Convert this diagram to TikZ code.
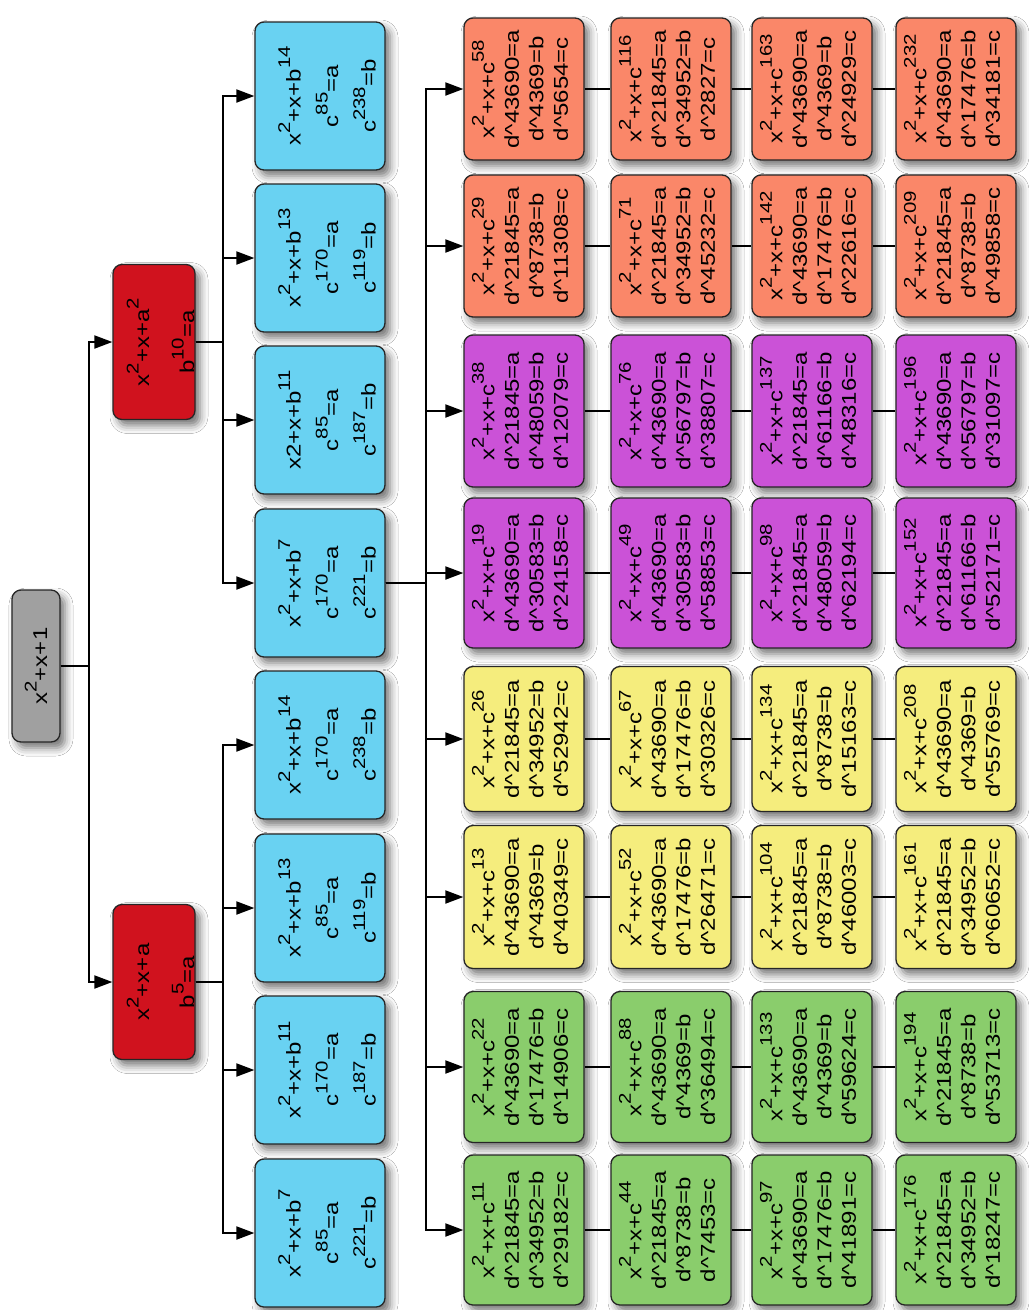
\documentclass[tikz,border=0pt]{standalone}
\usepackage{fontspec}
\setmainfont{Liberation Sans}
\usepackage{graphicx}
\usetikzlibrary{arrows.meta,shadows.blur}
\definecolor{cgray}{RGB}{160,160,160}
\definecolor{cred}{RGB}{208,18,30}
\definecolor{cblue}{RGB}{105,210,242}
\definecolor{corange}{RGB}{250,135,105}
\definecolor{cpurple}{RGB}{203,82,215}
\definecolor{cyellow}{RGB}{245,237,125}
\definecolor{cgreen}{RGB}{138,205,108}
\newcommand\sups[1]{\raisebox{10.5pt}{\fontsize{17}{17}\selectfont #1}}
\newcommand\nlbl[4]{\rotatebox{90}{\scalebox{1.2}[1]{\vbox{\fontsize{20}{#1}\selectfont\vskip#2\relax\halign{\hfil##\hfil\cr#4\crcr}\vskip#3\relax}}}}
\newcommand\cnt[4]{\nlbl{24.5}{0pt}{8pt}{x\sups{2}+x+c\sups{#1}\cr d\textasciicircum #2=a\cr d\textasciicircum #3=b\cr d\textasciicircum #4=c}}
\newcommand\bnt[3]{\nlbl{37.5}{14pt}{0pt}{#1\cr c\sups{#2}=a\cr c\sups{#3}=b}}
\begin{document}
\begin{tikzpicture}[x=1pt,y=-1pt,
  base/.style={rectangle, rounded corners=9pt, draw=black!85, line width=1.3pt, inner sep=0pt,
    blur shadow={shadow xshift=5pt,shadow yshift=-6pt,shadow blur radius=8pt,shadow opacity=55}},
  rootbox/.style={base, fill=cgray, minimum width=48pt, minimum height=152pt},
  redbox/.style={base, fill=cred, minimum width=82pt, minimum height=155pt},
  bluebox/.style={base, fill=cblue, minimum width=130pt, minimum height=148pt},
  cbox/.style={base, minimum width=120pt, minimum height=#1},
  orbox/.style={cbox=142pt, fill=corange},
  pu3/.style={cbox=152pt, fill=cpurple},
  pu4/.style={cbox=150pt, fill=cpurple},
  ye5/.style={cbox=145pt, fill=cyellow},
  ye6/.style={cbox=143pt, fill=cyellow},
  gr7/.style={cbox=151pt, fill=cgreen},
  gr8/.style={cbox=150pt, fill=cgreen},
  arr/.style={line width=2pt, -{Triangle[length=18pt,width=13pt]}},
  ln/.style={line width=2pt}]
\useasboundingbox[fill=white] (0,0) rectangle (1029,1310);

\node[rootbox] (root) at (36,666) {\nlbl{25}{0pt}{0pt}{x\sups{2}+x+1}};
\node[redbox] (ra) at (154,342) {\nlbl{45}{13pt}{0pt}{x\sups{2}+x+a\sups{2}\cr b\sups{10}=a}};
\node[redbox] (rb) at (154,982) {\nlbl{45}{13pt}{0pt}{x\sups{2}+x+a\cr b\sups{5}=a}};

\node[bluebox] (b1) at (320,96) {\bnt{x\sups{2}+x+b\sups{14}}{85}{238}};
\node[bluebox] (b2) at (320,258) {\bnt{x\sups{2}+x+b\sups{13}}{170}{119}};
\node[bluebox] (b3) at (320,420) {\bnt{x2+x+b\sups{11}}{85}{187}};
\node[bluebox] (b4) at (320,583) {\bnt{x\sups{2}+x+b\sups{7}}{170}{221}};
\node[bluebox] (b5) at (320,745) {\bnt{x\sups{2}+x+b\sups{14}}{170}{238}};
\node[bluebox] (b6) at (320,908) {\bnt{x\sups{2}+x+b\sups{13}}{85}{119}};
\node[bluebox] (b7) at (320,1070) {\bnt{x\sups{2}+x+b\sups{11}}{170}{187}};
\node[bluebox] (b8) at (320,1233) {\bnt{x\sups{2}+x+b\sups{7}}{85}{221}};

\node[orbox] (n11) at (524,89) {\cnt{58}{43690}{4369}{5654}};
\node[orbox] (n12) at (671,89) {\cnt{116}{21845}{34952}{2827}};
\node[orbox] (n13) at (812,89) {\cnt{163}{43690}{4369}{24929}};
\node[orbox] (n14) at (956,89) {\cnt{232}{43690}{17476}{34181}};

\node[orbox] (n21) at (524,246) {\cnt{29}{21845}{8738}{11308}};
\node[orbox] (n22) at (671,246) {\cnt{71}{21845}{34952}{45232}};
\node[orbox] (n23) at (812,246) {\cnt{142}{43690}{17476}{22616}};
\node[orbox] (n24) at (956,246) {\cnt{209}{21845}{8738}{49858}};

\node[pu3] (n31) at (524,411) {\cnt{38}{21845}{48059}{12079}};
\node[pu3] (n32) at (671,411) {\cnt{76}{43690}{56797}{38807}};
\node[pu3] (n33) at (812,411) {\cnt{137}{21845}{61166}{48316}};
\node[pu3] (n34) at (956,411) {\cnt{196}{43690}{56797}{31097}};

\node[pu4] (n41) at (524,573) {\cnt{19}{43690}{30583}{24158}};
\node[pu4] (n42) at (671,573) {\cnt{49}{43690}{30583}{58853}};
\node[pu4] (n43) at (812,573) {\cnt{98}{21845}{48059}{62194}};
\node[pu4] (n44) at (956,573) {\cnt{152}{21845}{61166}{52171}};

\node[ye5] (n51) at (524,739) {\cnt{26}{21845}{34952}{52942}};
\node[ye5] (n52) at (671,739) {\cnt{67}{43690}{17476}{30326}};
\node[ye5] (n53) at (812,739) {\cnt{134}{21845}{8738}{15163}};
\node[ye5] (n54) at (956,739) {\cnt{208}{43690}{4369}{55769}};

\node[ye6] (n61) at (524,897) {\cnt{13}{43690}{4369}{40349}};
\node[ye6] (n62) at (671,897) {\cnt{52}{43690}{17476}{26471}};
\node[ye6] (n63) at (812,897) {\cnt{104}{21845}{8738}{46003}};
\node[ye6] (n64) at (956,897) {\cnt{161}{21845}{34952}{60652}};

\node[gr7] (n71) at (524,1067) {\cnt{22}{43690}{17476}{14906}};
\node[gr7] (n72) at (671,1067) {\cnt{88}{43690}{4369}{36494}};
\node[gr7] (n73) at (812,1067) {\cnt{133}{43690}{4369}{59624}};
\node[gr7] (n74) at (956,1067) {\cnt{194}{21845}{8738}{53713}};

\node[gr8] (n81) at (524,1230) {\cnt{11}{21845}{34952}{29182}};
\node[gr8] (n82) at (671,1230) {\cnt{44}{21845}{8738}{7453}};
\node[gr8] (n83) at (812,1230) {\cnt{97}{43690}{17476}{41891}};
\node[gr8] (n84) at (956,1230) {\cnt{176}{21845}{34952}{18247}};

\draw[arr] (root.east) -- ++(28,0) |- (ra.west);
\draw[arr] (root.east) -- ++(28,0) |- (rb.west);
\foreach \b in {b1,b2,b3,b4} \draw[arr] (ra.east) -- ++(27,0) |- (\b.west);
\foreach \b in {b5,b6,b7,b8} \draw[arr] (rb.east) -- ++(27,0) |- (\b.west);
\foreach \r in {1,...,8} {
  \draw[arr] (b4.east) -- ++(40,0) |- (n\r1.west);
  \draw[ln] (n\r1.east) -- (n\r2.west);
  \draw[ln] (n\r2.east) -- (n\r3.west);
  \draw[ln] (n\r3.east) -- (n\r4.west);
}
\end{tikzpicture}
\end{document}
